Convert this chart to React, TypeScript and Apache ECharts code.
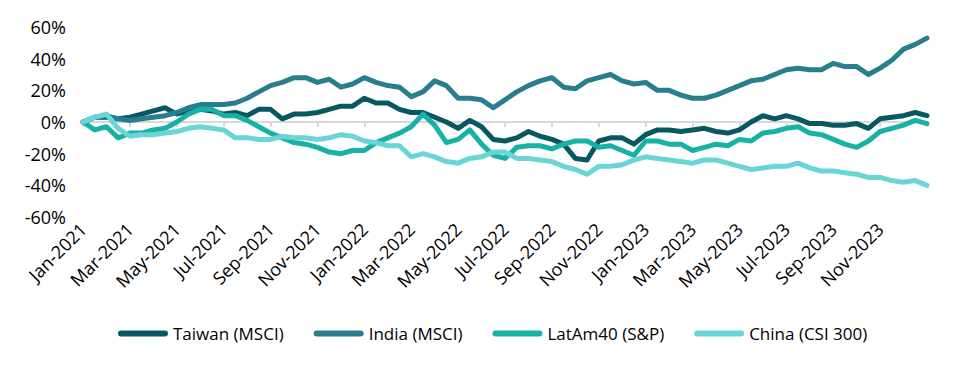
import React, { useEffect, useRef } from "react";
import * as echarts from "echarts";

// Month offsets from Jan-2021, every half month (0 .. 36)
const STEP = 0.5;

const tickLabels = [
  "Jan-2021", "Mar-2021", "May-2021", "Jul-2021", "Sep-2021", "Nov-2021",
  "Jan-2022", "Mar-2022", "May-2022", "Jul-2022", "Sep-2022", "Nov-2022",
  "Jan-2023", "Mar-2023", "May-2023", "Jul-2023", "Sep-2023", "Nov-2023",
];

const seriesNames = ["Taiwan (MSCI)", "India (MSCI)", "LatAm40 (S&P)", "China (CSI 300)"];
const seriesColors = ["#085862", "#287e8f", "#17b2a5", "#6ad5d7"];

const taiwan = [
  0, 3, 3, 2, 3, 5, 7, 9, 5, 7, 8, 7, 5, 6, 4, 8, 8, 2, 5, 5,
  6, 8, 10, 10, 15, 12, 12, 8, 6, 6, 3, 0, -4, 1, -3, -11, -12, -10, -6, -9,
  -11, -14, -23, -24, -12, -10, -10, -14, -8, -5, -5, -6, -5, -4, -6, -7, -5, 0, 4, 2,
  4, 2, -1, -1, -2, -2, -1, -4, 2, 3, 4, 6, 4,
];
const india = [
  0, 3, 4, 2, 1, 2, 3, 4, 6, 9, 11, 11, 11, 12, 15, 19, 23, 25, 28, 28,
  25, 27, 22, 24, 28, 25, 23, 22, 16, 19, 26, 23, 15, 15, 14, 9, 14, 19, 23, 26,
  28, 22, 21, 26, 28, 30, 26, 24, 25, 20, 20, 17, 15, 15, 17, 20, 23, 26, 27, 30,
  33, 34, 33, 33, 37, 35, 35, 30, 34, 39, 46, 49, 53,
];
const latam = [
  0, -5, -3, -10, -7, -7, -5, -4, 0, 5, 8, 8, 4, 4, 1, -3, -7, -10, -13, -14,
  -16, -19, -20, -18, -18, -13, -10, -7, -3, 5, -2, -13, -11, -5, -14, -21, -23, -16, -15, -15,
  -17, -14, -12, -12, -16, -15, -18, -21, -12, -12, -14, -14, -18, -16, -14, -15, -11, -12, -7, -6,
  -4, -3, -7, -8, -11, -14, -16, -12, -6, -4, -2, 1, -1,
];
const china = [
  0, 3, 5, -4, -9, -8, -8, -7, -6, -4, -3, -4, -5, -10, -10, -11, -11, -9, -10, -10,
  -11, -10, -8, -9, -12, -13, -15, -15, -22, -20, -22, -25, -26, -23, -22, -19, -19, -23, -23, -24,
  -25, -28, -30, -33, -28, -28, -27, -24, -22, -23, -24, -25, -26, -24, -24, -26, -28, -30, -29, -28,
  -28, -26, -29, -31, -31, -32, -33, -35, -35, -37, -38, -37, -40,
];

const allValues = [taiwan, india, latam, china];

const FONT = "'Open Sans', 'Noto Sans', sans-serif";

export default function App() {
  const ref = useRef<HTMLDivElement>(null);

  useEffect(() => {
    if (!ref.current) return;
    const chart = echarts.init(ref.current, undefined, { renderer: "svg" });

    const xCommon = {
      type: "value" as const,
      min: 0,
      max: 36,
      interval: 2,
      splitLine: { show: false },
    };

    chart.setOption({
      animation: false,
      backgroundColor: "#ffffff",
      textStyle: { fontFamily: FONT },
      grid: { left: 83, right: 41, top: 27, bottom: 153, containLabel: false },
      xAxis: [
        {
          ...xCommon,
          position: "bottom",
          axisLine: { show: false, onZero: false },
          axisTick: { show: false },
          axisLabel: {
            rotate: 45,
            margin: 9,
            fontSize: 18,
            color: "#000000",
            fontFamily: FONT,
            showMaxLabel: false,
            formatter: (v: number) => tickLabels[Math.round(v / 2)] ?? "",
          },
        },
        {
          ...xCommon,
          position: "bottom",
          axisLine: { show: true, onZero: true, lineStyle: { color: "#d9d9d9", width: 2 } },
          axisTick: { show: true, length: 5, lineStyle: { color: "#d9d9d9", width: 2 } },
          axisLabel: { show: false },
        },
      ],
      yAxis: {
        type: "value",
        min: -60,
        max: 60,
        interval: 20,
        axisLine: { show: false },
        axisTick: { show: false },
        splitLine: { show: false },
        axisLabel: {
          margin: 17,
          fontSize: 18,
          color: "#000000",
          fontFamily: FONT,
          formatter: (v: number) => `${v}%`,
        },
      },
      legend: {
        data: seriesNames,
        left: 113,
        top: 320,
        itemWidth: 50,
        itemHeight: 6,
        itemGap: 30,
        icon: "path://M3,0 H47 A3,3 0 0 1 47,6 H3 A3,3 0 0 1 3,0 Z",
        textStyle: { fontSize: 17, color: "#000000", fontFamily: FONT },
      },
      series: seriesNames.map((name, i) => ({
        name,
        type: "line",
        xAxisIndex: 0,
        symbol: "none",
        color: seriesColors[i],
        lineStyle: { width: 5, color: seriesColors[i], cap: "round", join: "round" },
        data: allValues[i].map((v, k) => [k * STEP, v]),
      })),
    });

    return () => chart.dispose();
  }, []);

  return (
    <div
      ref={ref}
      style={{ position: "fixed", left: 0, top: 0, width: 968, height: 370 }}
    />
  );
}
